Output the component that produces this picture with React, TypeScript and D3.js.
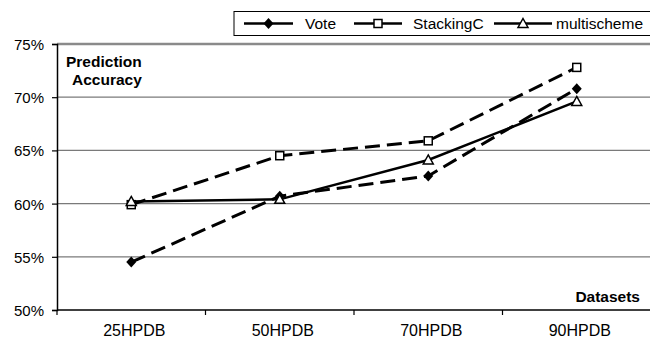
import React, { useEffect, useRef } from 'react';
import * as d3 from 'd3';

// data
const datasets = ['25HPDB', '50HPDB', '70HPDB', '90HPDB'];
const vote = [54.5, 60.7, 62.6, 70.8];
const stackingC = [59.9, 64.5, 65.9, 72.8];
const multischeme = [60.2, 60.4, 64.1, 69.6];
const yTicks = [50, 55, 60, 65, 70, 75];

const series = [
  { name: 'Vote', values: vote, dash: '15,7', width: 3, marker: 'diamond' },
  { name: 'StackingC', values: stackingC, dash: '15,7', width: 3, marker: 'square' },
  { name: 'multischeme', values: multischeme, dash: null, width: 2.5, marker: 'triangle' },
];

const W = 650;
const H = 337;
const font = 'Arial, "Liberation Sans", Helvetica, sans-serif';

function drawMarker(g, type, x, y) {
  if (type === 'diamond') {
    g.append('path')
      .attr('d', `M${x},${y - 5.5}L${x + 5},${y}L${x},${y + 5.5}L${x - 5},${y}Z`)
      .attr('fill', '#000');
  } else if (type === 'square') {
    g.append('rect')
      .attr('x', x - 4).attr('y', y - 4).attr('width', 8).attr('height', 8)
      .attr('fill', '#fff').attr('stroke', '#000').attr('stroke-width', 1.5);
  } else {
    g.append('path')
      .attr('d', `M${x},${y - 5}L${x + 5},${y + 4}L${x - 5},${y + 4}Z`)
      .attr('fill', '#fff').attr('stroke', '#000').attr('stroke-width', 1.5);
  }
}

export default function App() {
  const ref = useRef(null);

  useEffect(() => {
    const svg = d3.select(ref.current);
    svg.selectAll('*').remove();

    const x = d3.scaleBand().domain(datasets).range([57, 651]);
    const y = d3.scaleLinear().domain([50, 75]).range([310, 44]);

    // gridlines
    svg.append('g').selectAll('line').data(yTicks.slice(1)).join('line')
      .attr('x1', 57).attr('x2', W)
      .attr('y1', d => y(d)).attr('y2', d => y(d))
      .attr('stroke', d => (d === 75 ? '#8a8a8a' : '#7a7a7a'))
      .attr('stroke-width', d => (d === 75 ? 2.5 : 1.3));

    // y axis
    const yAxis = svg.append('g').attr('transform', 'translate(57,0)')
      .call(d3.axisLeft(y).tickValues(yTicks).tickSize(5).tickFormat(d => d + '%'));
    yAxis.select('.domain').attr('stroke', '#000').attr('stroke-width', 1.5);
    yAxis.selectAll('.tick line').attr('stroke', '#000').attr('stroke-width', 1.2);
    yAxis.selectAll('.tick text')
      .attr('x', -13).attr('dy', '0.36em')
      .attr('font-family', font).attr('font-size', 15).attr('fill', '#000');

    // x axis
    svg.append('line').attr('x1', 57).attr('x2', W).attr('y1', 310).attr('y2', 310)
      .attr('stroke', '#000').attr('stroke-width', 1.5);
    svg.append('g').selectAll('line').data(datasets).join('line')
      .attr('x1', d => x(d)).attr('x2', d => x(d))
      .attr('y1', 310).attr('y2', 315)
      .attr('stroke', '#000').attr('stroke-width', 1.2);
    svg.append('g').selectAll('text').data(datasets).join('text')
      .attr('x', d => x(d) + x.bandwidth() / 2 + 3)
      .attr('y', 335.5)
      .attr('text-anchor', 'middle')
      .attr('font-family', font).attr('font-size', 16)
      .text(d => d);

    // lines
    const line = d3.line().x((d, i) => x(datasets[i]) + x.bandwidth() / 2).y(d => y(d));
    series.forEach(s => {
      svg.append('path')
        .attr('d', line(s.values))
        .attr('fill', 'none')
        .attr('stroke', '#000')
        .attr('stroke-width', s.width)
        .attr('stroke-dasharray', s.dash);
    });
    series.forEach(s => {
      const g = svg.append('g');
      s.values.forEach((v, i) => drawMarker(g, s.marker, x(datasets[i]) + x.bandwidth() / 2, y(v)));
    });

    // labels
    svg.append('text').attr('x', 66).attr('y', 67)
      .attr('font-family', font).attr('font-size', 15.5).attr('font-weight', 'bold')
      .text('Prediction');
    svg.append('text').attr('x', 72).attr('y', 85)
      .attr('font-family', font).attr('font-size', 15.5).attr('font-weight', 'bold')
      .text('Accuracy');
    svg.append('text').attr('x', 640).attr('y', 302).attr('text-anchor', 'end')
      .attr('font-family', font).attr('font-size', 15.5).attr('font-weight', 'bold')
      .text('Datasets');

    // legend
    svg.append('rect').attr('x', 234).attr('y', 11.5).attr('width', 430).attr('height', 24)
      .attr('fill', '#fff').attr('stroke', '#000').attr('stroke-width', 1);
    const legendX = [[244, 293, 305], [354, 402, 413], [494, 552, 556]];
    series.forEach((s, i) => {
      const [a, b, t] = legendX[i];
      const lg = svg.append('g');
      lg.append('line').attr('x1', a).attr('x2', b).attr('y1', 23.5).attr('y2', 23.5)
        .attr('stroke', '#000').attr('stroke-width', 2.5);
      drawMarker(lg, s.marker, (a + b) / 2, 23.5);
      lg.append('text').attr('x', t).attr('y', 29)
        .attr('font-family', font).attr('font-size', 15.5)
        .text(s.name);
    });
  }, []);

  return (
    <svg ref={ref} width={W} height={H}
      style={{ position: 'absolute', left: 0, top: 0, background: '#fff' }} />
  );
}
